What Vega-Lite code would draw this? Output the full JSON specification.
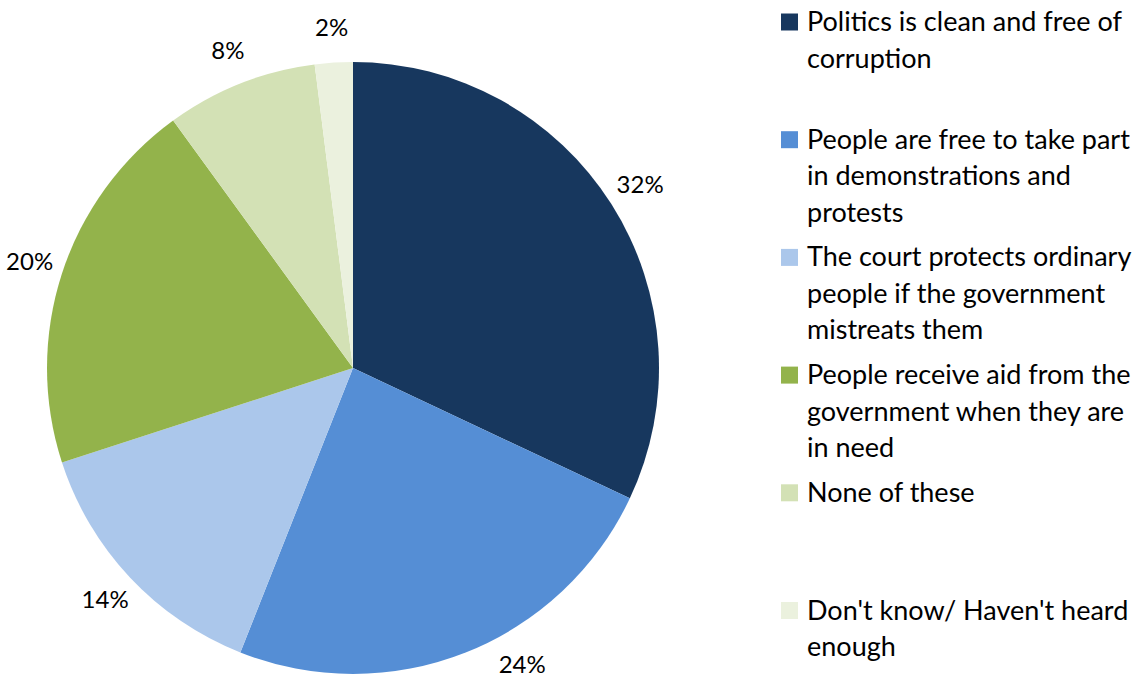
{
  "$schema": "https://vega.github.io/schema/vega-lite/v6.json",
  "width": 706,
  "height": 736,
  "padding": 0,
  "background": "white",
  "data": {
    "values": [
      {"order": 1, "category": "Politics is clean and free of\ncorruption", "value": 32, "label": "32%"},
      {"order": 2, "category": "People are free to take part\nin demonstrations and\nprotests", "value": 24, "label": "24%"},
      {"order": 3, "category": "The court protects ordinary\npeople if the government\nmistreats them", "value": 14, "label": "14%"},
      {"order": 4, "category": "People receive aid from the\ngovernment when they are\nin need", "value": 20, "label": "20%"},
      {"order": 5, "category": "None of these", "value": 8, "label": "8%"},
      {"order": 6, "category": "Don't know/ Haven't heard\nenough", "value": 2, "label": "2%"}
    ]
  },
  "encoding": {
    "theta": {"field": "value", "type": "quantitative", "stack": true},
    "order": {"field": "order", "type": "quantitative"}
  },
  "layer": [
    {
      "mark": {"type": "arc", "outerRadius": 306, "stroke": null},
      "encoding": {
        "color": {
          "field": "category",
          "type": "nominal",
          "sort": null,
          "scale": {
            "domain": [
              "Politics is clean and free of\ncorruption",
              "People are free to take part\nin demonstrations and\nprotests",
              "The court protects ordinary\npeople if the government\nmistreats them",
              "People receive aid from the\ngovernment when they are\nin need",
              "None of these",
              "Don't know/ Haven't heard\nenough"
            ],
            "range": ["#17375E", "#558ED5", "#ABC7EB", "#93B34B", "#D3E1B5", "#EBF1DE"]
          },
          "legend": {
            "title": null,
            "orient": "none",
            "legendX": 776,
            "legendY": 8.5,
            "symbolType": "square",
            "symbolSize": 289,
            "symbolStrokeWidth": 0,
            "labelFont": "Lato",
            "labelFontSize": 27,
            "labelColor": "black",
            "labelOffset": 4,
            "labelLimit": 420,
            "rowPadding": 16.7,
            "labelExpr": "slice(split(datum.label + '\\n \\n ', '\\n'), 0, 3)",
            "labelBaseline": "alphabetic",
            "padding": 0
          }
        }
      }
    },
    {
      "mark": {
        "type": "text",
        "radius": 340,
        "font": "Lato",
        "fontSize": 24,
        "color": "black",
        "dx": {"expr": "datum.value_start < 50 && datum.value_end > 50 ? 44 : 0"},
        "dy": {"expr": "datum.value_start < 50 && datum.value_end > 50 ? -18 : 0"}
      },
      "encoding": {
        "text": {"field": "label"},
        "detail": {"field": "category"}
      }
    }
  ],
  "config": {
    "view": {"stroke": null},
    "style": {"guide-label": {"lineHeight": 36.5, "dy": 9}}
  }
}
